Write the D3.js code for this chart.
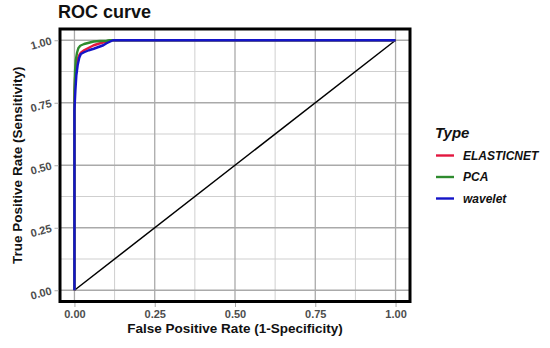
<!DOCTYPE html>
<html><head><meta charset="utf-8">
<script src="https://cdn.jsdelivr.net/npm/d3@7"></script>
<style>body{margin:0;background:#fff;}svg{display:block;font-family:"Liberation Sans",Arial,sans-serif;}</style>
</head><body><svg id="c" width="550" height="348"></svg>
<script>
const seriesNames = ["ELASTICNET", "PCA", "wavelet"];
const seriesColors = ["#e3173f", "#2e8b2e", "#1414c8"];
const xTicks = [0, 0.25, 0.5, 0.75, 1];
const yTicks = [0, 0.25, 0.5, 0.75, 1];
const tickLabels = ["0.00", "0.25", "0.50", "0.75", "1.00"];
const elasticFpr = [0, 0, 0.002, 0.005, 0.01, 0.015, 0.02, 0.03, 0.045, 0.06, 0.08, 0.1, 0.115, 1];
const elasticTpr = [0, 0.77, 0.85, 0.89, 0.925, 0.94, 0.95, 0.96, 0.97, 0.98, 0.988, 0.995, 1, 1];
const pcaFpr = [0, 0, 0.002, 0.004, 0.008, 0.012, 0.018, 0.03, 0.045, 0.06, 0.08, 0.1, 0.11, 1];
const pcaTpr = [0, 0.8, 0.88, 0.92, 0.95, 0.968, 0.978, 0.985, 0.99, 0.995, 0.997, 0.998, 1, 1];
const waveFpr = [0, 0, 0.003, 0.006, 0.01, 0.015, 0.02, 0.03, 0.045, 0.06, 0.09, 0.1, 0.12, 1];
const waveTpr = [0, 0.72, 0.8, 0.86, 0.9, 0.93, 0.945, 0.952, 0.96, 0.966, 0.98, 0.988, 1, 1];
const diagFpr = [0, 1];
const diagTpr = [0, 1];

const svg = d3.select("#c");
const L = 60, R = 410, T = 29, B = 301.5;
const pad = 0.045;
const x = d3.scaleLinear().domain([-pad, 1 + pad]).range([L, R]);
const y = d3.scaleLinear().domain([-pad, 1 + pad]).range([B, T]);

svg.append("rect").attr("x", L).attr("y", T).attr("width", R - L).attr("height", B - T).attr("fill", "#fff");
const minor = [0.125, 0.375, 0.625, 0.875];
svg.append("g").selectAll("line").data(minor).join("line")
  .attr("x1", d => x(d)).attr("x2", d => x(d)).attr("y1", T).attr("y2", B)
  .attr("stroke", "#cfcfcf").attr("stroke-width", 1);
svg.append("g").selectAll("line").data(minor).join("line")
  .attr("y1", d => y(d)).attr("y2", d => y(d)).attr("x1", L).attr("x2", R)
  .attr("stroke", "#cfcfcf").attr("stroke-width", 1);
svg.append("g").selectAll("line").data(xTicks).join("line")
  .attr("x1", d => x(d)).attr("x2", d => x(d)).attr("y1", T).attr("y2", B)
  .attr("stroke", "#aaaaaa").attr("stroke-width", 1.3);
svg.append("g").selectAll("line").data(yTicks).join("line")
  .attr("y1", d => y(d)).attr("y2", d => y(d)).attr("x1", L).attr("x2", R)
  .attr("stroke", "#aaaaaa").attr("stroke-width", 1.3);

const line = d3.line().x(d => x(d[0])).y(d => y(d[1]));
svg.append("path").datum(d3.zip(diagFpr, diagTpr)).attr("d", line)
  .attr("fill", "none").attr("stroke", "#000").attr("stroke-width", 1.5);

const curves = [d3.zip(elasticFpr, elasticTpr), d3.zip(pcaFpr, pcaTpr), d3.zip(waveFpr, waveTpr)];
curves.forEach((c, i) => {
  svg.append("path").datum(c).attr("d", line)
    .attr("fill", "none").attr("stroke", seriesColors[i]).attr("stroke-width", 2.4)
    .attr("stroke-linejoin", "round");
});

svg.append("rect").attr("x", L).attr("y", T).attr("width", R - L).attr("height", B - T)
  .attr("fill", "none").attr("stroke", "#000").attr("stroke-width", 3);

const xAxis = d3.axisBottom(x).tickValues(xTicks).tickFormat((d, i) => tickLabels[i]).tickSize(4).tickPadding(3);
const gx = svg.append("g").attr("transform", `translate(0,${B + 1.5})`).call(xAxis);
gx.select(".domain").remove();
gx.selectAll(".tick line").attr("stroke", "#aaaaaa");
gx.selectAll("text").attr("fill", "#4d4d4d").attr("font-size", 11).attr("font-weight", "bold")
  .attr("font-family", '"Liberation Sans",Arial,sans-serif');

const yAxis = d3.axisLeft(y).tickValues(yTicks).tickFormat((d, i) => tickLabels[i]).tickSize(4).tickPadding(3);
const gy = svg.append("g").attr("transform", `translate(${L - 1.5},0)`).call(yAxis);
gy.select(".domain").remove();
gy.selectAll(".tick line").attr("stroke", "#aaaaaa");
gy.selectAll("text").attr("fill", "#4d4d4d").attr("font-size", 11).attr("font-weight", "bold")
  .attr("font-family", '"Liberation Sans",Arial,sans-serif')
  .attr("transform", "rotate(-15,-7,0)");

svg.append("text").attr("x", 58).attr("y", 18).text("ROC curve")
  .attr("font-size", 18).attr("font-weight", "bold").attr("fill", "#111");
svg.append("text").attr("x", (L + R) / 2).attr("y", 333).attr("text-anchor", "middle")
  .text("False Positive Rate (1-Specificity)").attr("font-size", 13.5).attr("font-weight", "bold").attr("fill", "#111");
svg.append("text").attr("transform", `translate(22,${(T + B) / 2}) rotate(-90)`).attr("text-anchor", "middle")
  .text("True Positive Rate (Sensitivity)").attr("font-size", 13.5).attr("font-weight", "bold").attr("fill", "#111");

const lg = svg.append("g").attr("transform", "translate(434,0)");
lg.append("text").attr("x", 1).attr("y", 138).text("Type").attr("font-size", 15)
  .attr("font-weight", "bold").attr("font-style", "italic").attr("fill", "#111");
seriesNames.forEach((n, i) => {
  const yy = 155.5 + i * 21.5;
  lg.append("line").attr("x1", 2).attr("x2", 20).attr("y1", yy).attr("y2", yy)
    .attr("stroke", seriesColors[i]).attr("stroke-width", 2.4);
  lg.append("text").attr("x", 29).attr("y", yy + 4).text(n).attr("font-size", 12)
    .attr("font-weight", "bold").attr("font-style", "italic").attr("fill", "#111");
});
</script></body></html>
